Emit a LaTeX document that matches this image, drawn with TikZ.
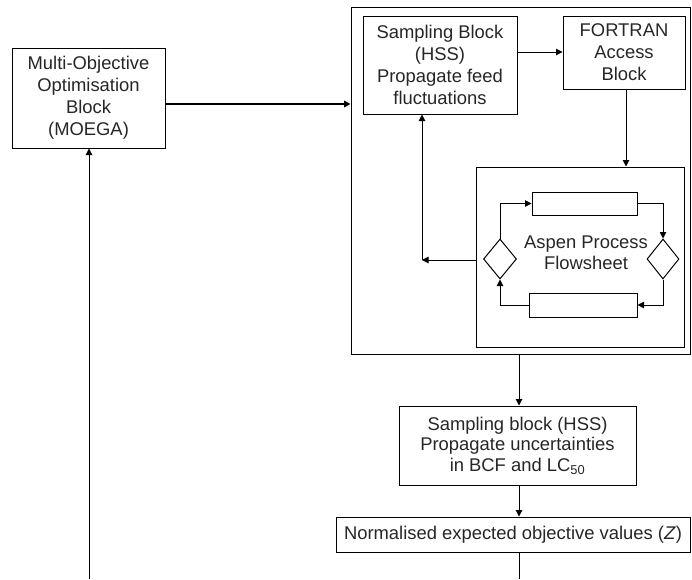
\documentclass[tikz,border=0pt]{standalone}
\usepackage{fontspec}
\setmainfont{Liberation Sans}
\usetikzlibrary{arrows.meta,shapes.geometric}
\begin{document}
\begin{tikzpicture}[x=1pt,y=-1pt,
  box/.style={draw, line width=1pt, rectangle, inner sep=0pt, align=center,
    font=\fontsize{18.4}{22}\selectfont, text=black!85},
  dia/.style={draw, line width=1pt, diamond, inner sep=0pt},
  arr/.style={line width=1pt, -{Triangle[length=6.5pt,width=6.5pt]}},
  plain/.style={line width=1pt}]
\useasboundingbox (0,0) rectangle (692,579);

% left: optimiser
\node[box, minimum width=153pt, minimum height=100pt] (moega) at (88.5,98)
  {Multi-Objective\\Optimisation\\Block\\(MOEGA)};

% simulation block with its inner parts
\node[box, minimum width=339pt, minimum height=347pt] (outer) at (520.5,180.5) {};
\node[box, minimum width=154pt, minimum height=98pt] (samp) at (440,65)
  {Sampling Block\\(HSS)\\Propagate feed\\fluctuations};
\node[box, minimum width=122pt, minimum height=73pt] (fort) at (624,52.5)
  {FORTRAN\\Access\\Block};
\node[box, minimum width=208pt, minimum height=180pt] (aspen) at (580,257) {};
\node[box, minimum width=105pt, minimum height=23pt] (tr) at (584.5,203.5) {};
\node[box, minimum width=108pt, minimum height=24pt] (br) at (583,305) {};
\node[dia, minimum width=33pt, minimum height=40pt] (ld) at (500,259) {};
\node[dia, minimum width=32pt, minimum height=40pt] (rd) at (663,259) {};
\node[align=center, font=\fontsize{18.4}{20.5}\selectfont, text=black!85]
  (aspentxt) at (586,253) {Aspen Process\\Flowsheet};

% lower blocks
\node[box, minimum width=237pt, minimum height=79pt,
  font=\fontsize{18.4}{20.5}\selectfont] (samp2) at (517.5,445.5)
  {Sampling block (HSS)\\Propagate uncertainties\\in BCF and LC\textsubscript{50}};
\node[box, minimum width=354pt, minimum height=35pt] (zbox) at (513,534.5)
  {Normalised expected objective values (\textit{Z})};

\coordinate (ret) at (422,260);
\coordinate (zend) at (519,579);
\coordinate (lend) at (89,579);

% connectors
\draw[arr, line width=2pt] (moega.east |- 0,104) -- (outer.west |- 0,104);
\draw[arr] (samp.east |- 0,52) -- (fort.west |- 0,52);
\draw[arr] (fort.south -| 626,0) -- (aspen.north -| 626,0);
\draw[arr] (aspen.west |- ret) -- (ret);
\draw[arr] (ret) -- (samp.south -| ret);
\draw[arr] (ld.north) |- (tr.west);
\draw[arr] (tr.east) -| (rd.north);
\draw[arr] (rd.south) |- (br.east);
\draw[arr] (br.west) -| (ld.south);
\draw[arr] (outer.south -| 519,0) -- (samp2.north -| 519,0);
\draw[arr] (samp2.south -| 519,0) -- (zbox.north -| 519,0);
\draw[plain] (zbox.south -| zend) -- (zend);
\draw[arr] (lend) -- (moega.south -| lend);
\end{tikzpicture}
\end{document}
